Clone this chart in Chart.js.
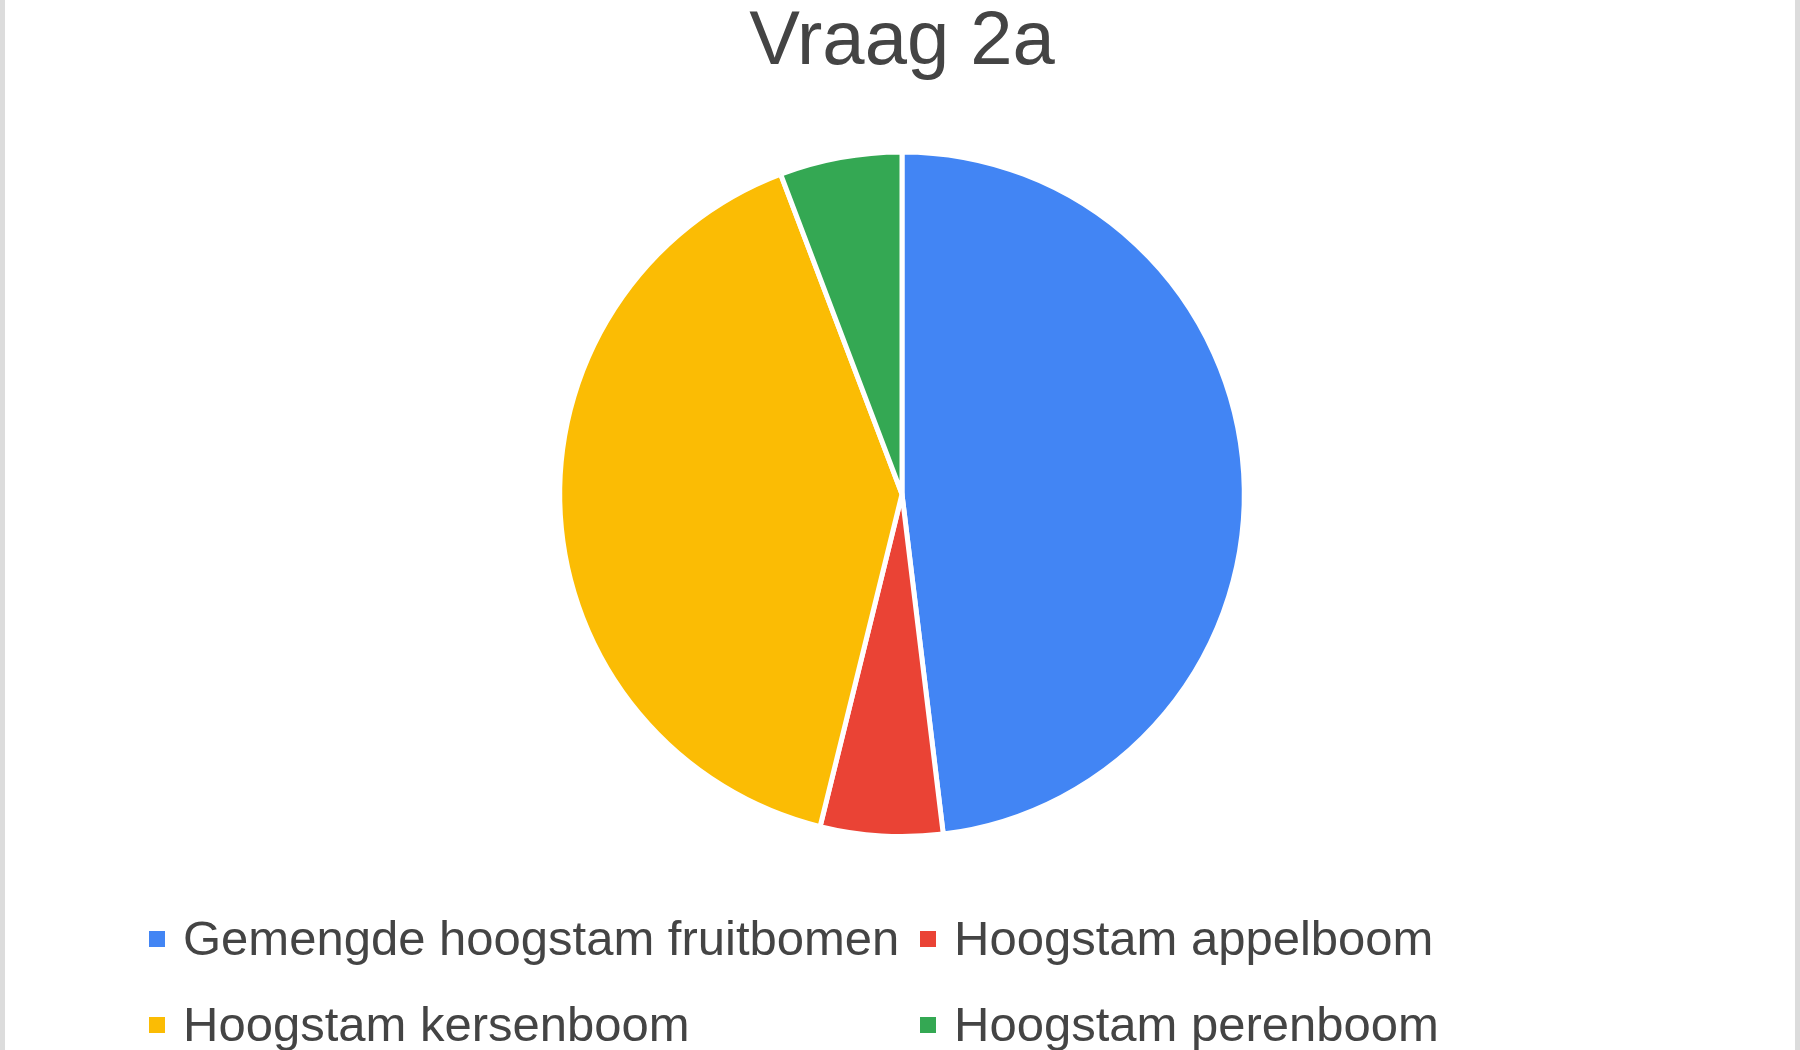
<!DOCTYPE html>
<html>
<head>
<meta charset="utf-8">
<title>Vraag 2a</title>
<script src="https://cdn.jsdelivr.net/npm/chart.js@4"></script>
<style>
  html, body { margin: 0; padding: 0; background: #fff; overflow: hidden; }
  #wrap { position: relative; width: 1800px; height: 1050px; }
  #wrap canvas { position: absolute; left: 0; top: 0; }
  .edge { position: absolute; top: 0; width: 5px; height: 1050px; background: #dcdcdc; }
  .legend-item {
    position: absolute; display: flex; align-items: center;
    font-family: "Liberation Sans", Arial, sans-serif; font-size: 49px;
    line-height: 49px; color: #444; white-space: nowrap;
  }
  .legend-item .box { width: 16px; height: 16px; margin-right: 18px; flex: none; }
</style>
</head>
<body>
<div id="wrap">
  <canvas id="vraagChart"></canvas>
  <div class="edge" style="left:0"></div>
  <div class="edge" style="right:0"></div>
</div>
<script>
// --- Data ---
const chartTitle = 'Vraag 2a';
const categories = ['Gemengde hoogstam fruitbomen', 'Hoogstam appelboom', 'Hoogstam kersenboom', 'Hoogstam perenboom'];
const answers = [25, 3, 21, 3];
const sliceColors = ['#4285F4', '#EA4335', '#FBBC04', '#34A853'];

// --- Chart ---
const initChart = () => {
    const ctx = document.getElementById('vraagChart');
    new Chart(ctx, {
        type: 'pie',
        data: {
            labels: categories,
            datasets: [{
                data: answers,
                backgroundColor: sliceColors,
                borderColor: '#ffffff',
                borderWidth: 5
            }]
        },
        options: {
            responsive: true,
            maintainAspectRatio: false,
            animation: false,
            layout: { padding: { top: 0, bottom: 211, left: 4, right: 0 } },
            plugins: {
                legend: { display: false },
                tooltip: { enabled: false },
                title: {
                    display: true,
                    text: chartTitle,
                    color: '#444',
                    font: { family: '"Liberation Sans", Arial, sans-serif', size: 76, weight: 'normal', lineHeight: 0.9 },
                    padding: { top: 9, bottom: 72 }
                }
            }
        }
    });
};

// --- Legend (two fixed columns like the original) ---
const initLegend = () => {
    const wrap = document.getElementById('wrap');
    const colLeft = [149, 920];
    const rowTop = [914, 1000];
    categories.forEach((label, i) => {
        const item = document.createElement('div');
        item.className = 'legend-item';
        item.style.left = colLeft[i % 2] + 'px';
        item.style.top = rowTop[Math.floor(i / 2)] + 'px';
        const box = document.createElement('span');
        box.className = 'box';
        box.style.background = sliceColors[i];
        const text = document.createElement('span');
        text.textContent = label;
        item.appendChild(box);
        item.appendChild(text);
        wrap.appendChild(item);
    });
};

document.addEventListener('DOMContentLoaded', () => {
    initChart();
    initLegend();
});
</script>
</body>
</html>
